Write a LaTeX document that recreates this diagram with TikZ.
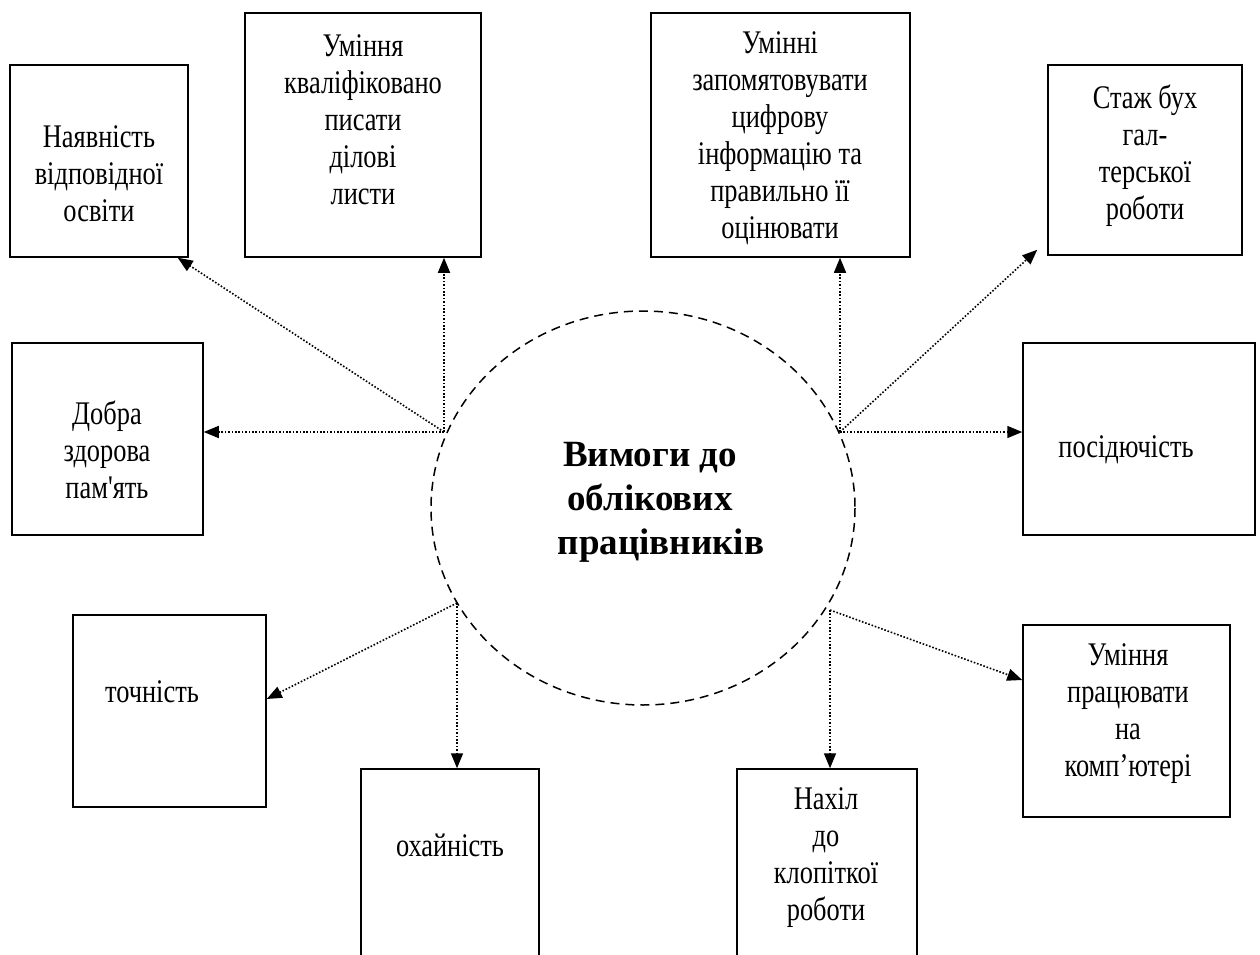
\documentclass[tikz,border=0pt]{standalone}
\usepackage{fontspec}
\setmainfont{Liberation Serif}
\newfontfamily\boxfont{Liberation Serif}[FakeStretch=0.8]
\usetikzlibrary{arrows.meta,calc}
\begin{document}
\begin{tikzpicture}[x=1pt,y=-1pt,
  box/.style={draw=black,line width=1.5pt,rectangle,inner sep=0pt},
  txt/.style={align=center,inner sep=0pt,font=\boxfont\fontsize{33}{37}\selectfont},
  ttl/.style={align=center,inner sep=0pt,font=\fontsize{37}{44}\selectfont\bfseries},
  arr/.style={line width=1.6pt,dash pattern=on 1.6pt off 1.8pt,-{Triangle[length=15pt,width=12pt]}},
  ring/.style={draw=black,line width=1.5pt,dash pattern=on 9pt off 6pt}]
\clip (0,0) rectangle (1260,955);
\fill[white] (0,0) rectangle (1260,955);
% boxes
\node[box,minimum width=178pt,minimum height=192pt] (A) at (99,161) {};
\node[box,minimum width=236pt,minimum height=244pt] (B) at (363,135) {};
\node[box,minimum width=259pt,minimum height=244pt] (C) at (780.5,135) {};
\node[box,minimum width=194pt,minimum height=190pt] (D) at (1145,160) {};
\node[box,minimum width=191pt,minimum height=192pt] (E) at (107.5,439) {};
\node[box,minimum width=232pt,minimum height=192pt] (I) at (1139,439) {};
\node[box,minimum width=193pt,minimum height=192pt] (F) at (169.5,711) {};
\node[box,minimum width=178pt,minimum height=240pt] (G) at (450,889) {};
\node[box,minimum width=180pt,minimum height=240pt] (H) at (827,889) {};
\node[box,minimum width=207pt,minimum height=192pt] (J) at (1126.5,721) {};
% texts
\node[txt] (tA) at (99,174) {Наявність\\відповідної\\освіти};
\node[txt] (tB) at (363,120) {Уміння\\кваліфіковано\\писати\\ділові\\листи};
\node[txt] (tC) at (780,138) {Умінні\\запомятовувати\\цифрову\\інформацію та\\правильно її\\оцінювати};
\node[txt] (tD) at (1145,156) {Стаж бух\\гал-\\терської\\роботи};
\node[txt] (tE) at (107,450) {Добра\\здорова\\пам'ять};
\node[txt] (tI) at (1126,450) {посідючість};
\node[txt] (tF) at (152,692) {точність};
\node[txt] (tG) at (450,845) {охайність};
\node[txt] (tH) at (826,858) {Нахіл\\до\\клопіткої\\роботи};
\node[txt] (tJ) at (1128,714) {Уміння\\працювати\\на\\комп’ютері};
% centre
\draw[ring] (643,508) ellipse [x radius=212, y radius=197];
\node[ttl] (T) at (650,502) {Вимоги до\\облікових\\\hspace*{22pt}працівників};
% origins on the ring
\coordinate (o1) at (444,432);
\coordinate (o2) at (840,432);
\coordinate (o3) at (457,603);
\coordinate (o4) at (830,610);
% connectors
\draw[arr] (o1) -- ([xshift=-11pt]A.south east);
\draw[arr] (o1) -- (o1 |- B.south);
\draw[arr] (o1) -- (o1 -| E.east);
\draw[arr] (o2) -- (o2 |- C.south);
\draw[arr] (o2) -- ([xshift=-10pt,yshift=6pt]D.south west);
\draw[arr] (o2) -- (o2 -| I.west);
\draw[arr] (o3) -- ([yshift=12pt]F.east);
\draw[arr] (o3) -- (o3 |- G.north);
\draw[arr] (o4) -- (o4 |- H.north);
\draw[arr] (o4) -- ([yshift=41pt]J.west);
\end{tikzpicture}
\end{document}
